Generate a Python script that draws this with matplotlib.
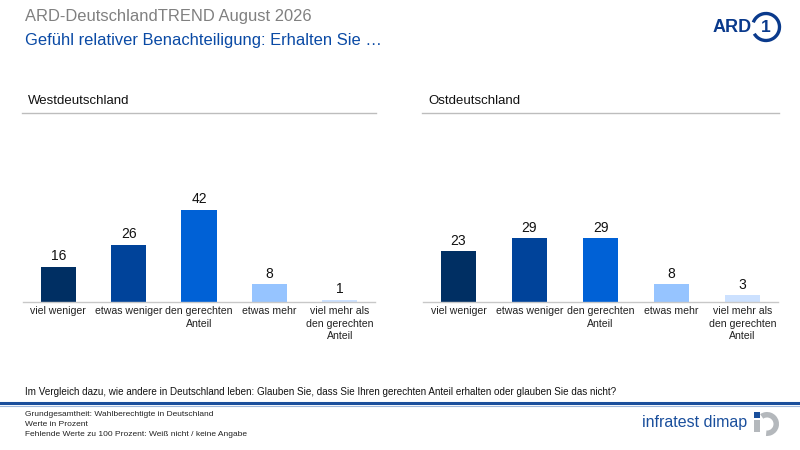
import matplotlib.pyplot as plt
from matplotlib.patches import Arc, Rectangle, Wedge

plt.rcParams['font.family'] = ['Liberation Sans', 'DejaVu Sans']

# Daten
categories = ["viel weniger", "etwas weniger", "den gerechten\nAnteil",
              "etwas mehr", "viel mehr als\nden gerechten\nAnteil"]
west = [16, 26, 42, 8, 1]
ost = [23, 29, 29, 8, 3]
panel_titles = ["Westdeutschland", "Ostdeutschland"]
bar_colors = ["#002f63", "#00439a", "#0061d6", "#96c4ff", "#cce1ff"]

W, H = 800, 450
fig = plt.figure(figsize=(8, 4.5), dpi=100)


def fx(px):
    return px / W


def fy(py):
    return 1 - py / H


# Overlay in Pixelkoordinaten fuer Logos
deco = fig.add_axes([0, 0, 1, 1])
deco.set_xlim(0, W)
deco.set_ylim(H, 0)
deco.axis("off")

# Kopf
fig.text(fx(25), fy(17), "ARD-DeutschlandTREND August 2026", fontsize=11.9,
         color="#808080", va="center", ha="left")
fig.text(fx(25), fy(41), "Gefühl relativer Benachteiligung: Erhalten Sie …",
         fontsize=11.9, color="#0a4aa5", va="center", ha="left")

# ARD Logo
deco.text(713, 28, "ARD", fontsize=13, fontweight="bold",
          color="#0a3a8c", va="center", ha="left")
deco.add_patch(Arc((766, 27), 27, 27, theta1=200, theta2=150,
                   color="#0a3a8c", lw=2.4))
deco.text(766, 28, "1", fontsize=12.5, fontweight="bold",
          color="#0a3a8c", ha="center", va="center")

# Panels
panels = [(23, 375, west), (423, 778, ost)]
for (x0, x1, vals), title in zip(panels, panel_titles):
    top, base = 115, 302
    ax = fig.add_axes([fx(x0), fy(base), fx(x1 - x0), (base - top) / H])
    xs = range(len(categories))
    ax.bar(xs, vals, width=0.5, color=bar_colors)
    for x, v in zip(xs, vals):
        ax.text(x, v + 1.6, str(v), ha="center", va="bottom", fontsize=10,
                color="#111111")
    ax.set_xlim(-0.5, len(categories) - 0.5)
    ax.set_ylim(0, 85)
    ax.set_xticks(list(xs))
    ax.set_xticklabels(categories, fontsize=7.6, color="#222222",
                       linespacing=1.3)
    ax.tick_params(axis="x", length=0, pad=3)
    ax.set_yticks([])
    for s in ["top", "left", "right"]:
        ax.spines[s].set_visible(False)
    ax.spines["bottom"].set_color("#c8c8c8")
    ax.spines["bottom"].set_linewidth(1)
    fig.text(fx(x0 + 5), fy(101), title, fontsize=9.5, color="#111111",
             va="center", ha="left")
    fig.add_artist(plt.Line2D([fx(x0 - 1), fx(x1 + 1)], [fy(113), fy(113)],
                              color="#bdbdbd", lw=1))

# Frage
fig.text(fx(25), fy(392), "Im Vergleich dazu, wie andere in Deutschland leben: "
         "Glauben Sie, dass Sie Ihren gerechten Anteil erhalten oder glauben Sie das nicht?",
         fontsize=7.15, color="#111111", va="center", ha="left")
fig.add_artist(plt.Line2D([0, 1], [fy(403), fy(403)], color="#1b4f9c", lw=2.2))
fig.add_artist(plt.Line2D([0, 1], [fy(405.5), fy(405.5)], color="#9fb8dc", lw=0.8))

# Fussnoten
notes = ["Grundgesamtheit: Wahlberechtigte in Deutschland",
         "Werte in Prozent",
         "Fehlende Werte zu 100 Prozent: Weiß nicht / keine Angabe"]
for i, n in enumerate(notes):
    fig.text(fx(25), fy(414 + i * 10), n, fontsize=6, color="#222222",
             va="center", ha="left",
             family=["Liberation Sans Narrow", "Liberation Sans", "DejaVu Sans"])

# infratest dimap Logo
deco.text(747, 423, "infratest dimap", fontsize=11.5, color="#1a4f9c",
          va="center", ha="right",
          family=["Liberation Sans Narrow", "Liberation Sans", "DejaVu Sans"])
deco.add_patch(Rectangle((754, 412), 6, 5.5, color="#1a4f9c", lw=0))
deco.add_patch(Rectangle((754, 419.5), 6, 12, color="#b4b8bc", lw=0))
deco.add_patch(Wedge((767, 424), 12, -125, 95, width=5.5, color="#b4b8bc", lw=0))

fig.savefig("out.png", dpi=100, facecolor="white")
